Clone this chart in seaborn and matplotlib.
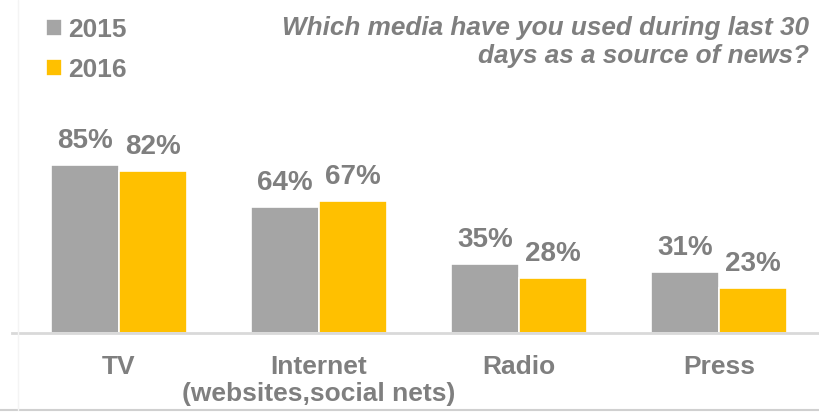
import matplotlib
matplotlib.use("Agg")
import matplotlib.pyplot as plt
from matplotlib.lines import Line2D
import seaborn as sns
import pandas as pd

# Share of respondents using each medium as a news source
categories = ["TV", "Internet\n(websites,social nets)", "Radio", "Press"]
years = ["2015", "2016"]
values_2015 = [85, 64, 35, 31]
values_2016 = [82, 67, 28, 23]

palette = {"2015": "#a5a5a5", "2016": "#ffc000"}
text_color = "#7f7f7f"

df = pd.DataFrame({
    "media": categories * 2,
    "year": [years[0]] * len(categories) + [years[1]] * len(categories),
    "share": values_2015 + values_2016,
})

sns.set_theme(style="white")
plt.rcParams["font.family"] = ["Liberation Sans", "DejaVu Sans"]

W, H = 819, 412
fig = plt.figure(figsize=(W / 100, H / 100), dpi=100)
fig.patch.set_facecolor("white")

# Axes: baseline at y=333 px, spans from x=12 px to the right edge
ax = fig.add_axes([12 / W, (H - 333) / H, (W - 12) / W, 333 / H])
ax.set_facecolor("none")

sns.barplot(data=df, x="media", y="share", hue="year", order=categories,
            hue_order=years, palette=palette, width=0.68, saturation=1,
            edgecolor="white", linewidth=1.2, ax=ax, legend=True)

ax.set_xlim(-0.535, 3.5)
ax.set_ylim(0, 333 / 1.976)

for container, yr in zip(ax.containers, years):
    vals = values_2015 if yr == "2015" else values_2016
    for bar, v in zip(container, vals):
        ax.annotate(f"{v}%", (bar.get_x() + bar.get_width() / 2, v),
                    xytext=(0, 12), textcoords="offset points",
                    ha="center", va="baseline", fontsize=20,
                    fontweight="bold", color=text_color, clip_on=False)

ax.set_xlabel("")
ax.set_ylabel("")
ax.set_yticks([])
ax.tick_params(axis="x", length=0, pad=16)
for lbl in ax.get_xticklabels():
    lbl.set_fontsize(19)
    lbl.set_fontweight("bold")
    lbl.set_color(text_color)
    lbl.set_linespacing(1.12)

for side in ["top", "left", "right"]:
    ax.spines[side].set_visible(False)
ax.spines["bottom"].set_color("#d9d9d9")
ax.spines["bottom"].set_linewidth(2)

# Legend in the top-left corner
handles, labels = ax.get_legend_handles_labels()
ax.legend(handles, labels, loc="upper left",
          bbox_to_anchor=(35 / W, 1 - 7 / H), bbox_transform=fig.transFigure,
          frameon=False, handlelength=0.62, handleheight=0.62,
          handletextpad=0.25, labelspacing=0.62, borderaxespad=0,
          prop={"size": 19, "weight": "bold"}, labelcolor=text_color)

# Survey question, right-aligned at the top
fig.text(809 / W, 1 - 16 / H,
         "Which media have you used during last 30\ndays as a source of news?",
         ha="right", va="top", fontsize=18.8, fontweight="bold",
         fontstyle="italic", color=text_color, linespacing=1.2)

# Thin border lines of the slide frame
fig.add_artist(Line2D([0, 1], [2 / H, 2 / H], transform=fig.transFigure,
                      color="#d0d0d0", linewidth=1.5))
fig.add_artist(Line2D([18 / W, 18 / W], [2 / H, 1], transform=fig.transFigure,
                      color="#f4f4f4", linewidth=1))

fig.savefig("out.png", dpi=100, facecolor="white")
